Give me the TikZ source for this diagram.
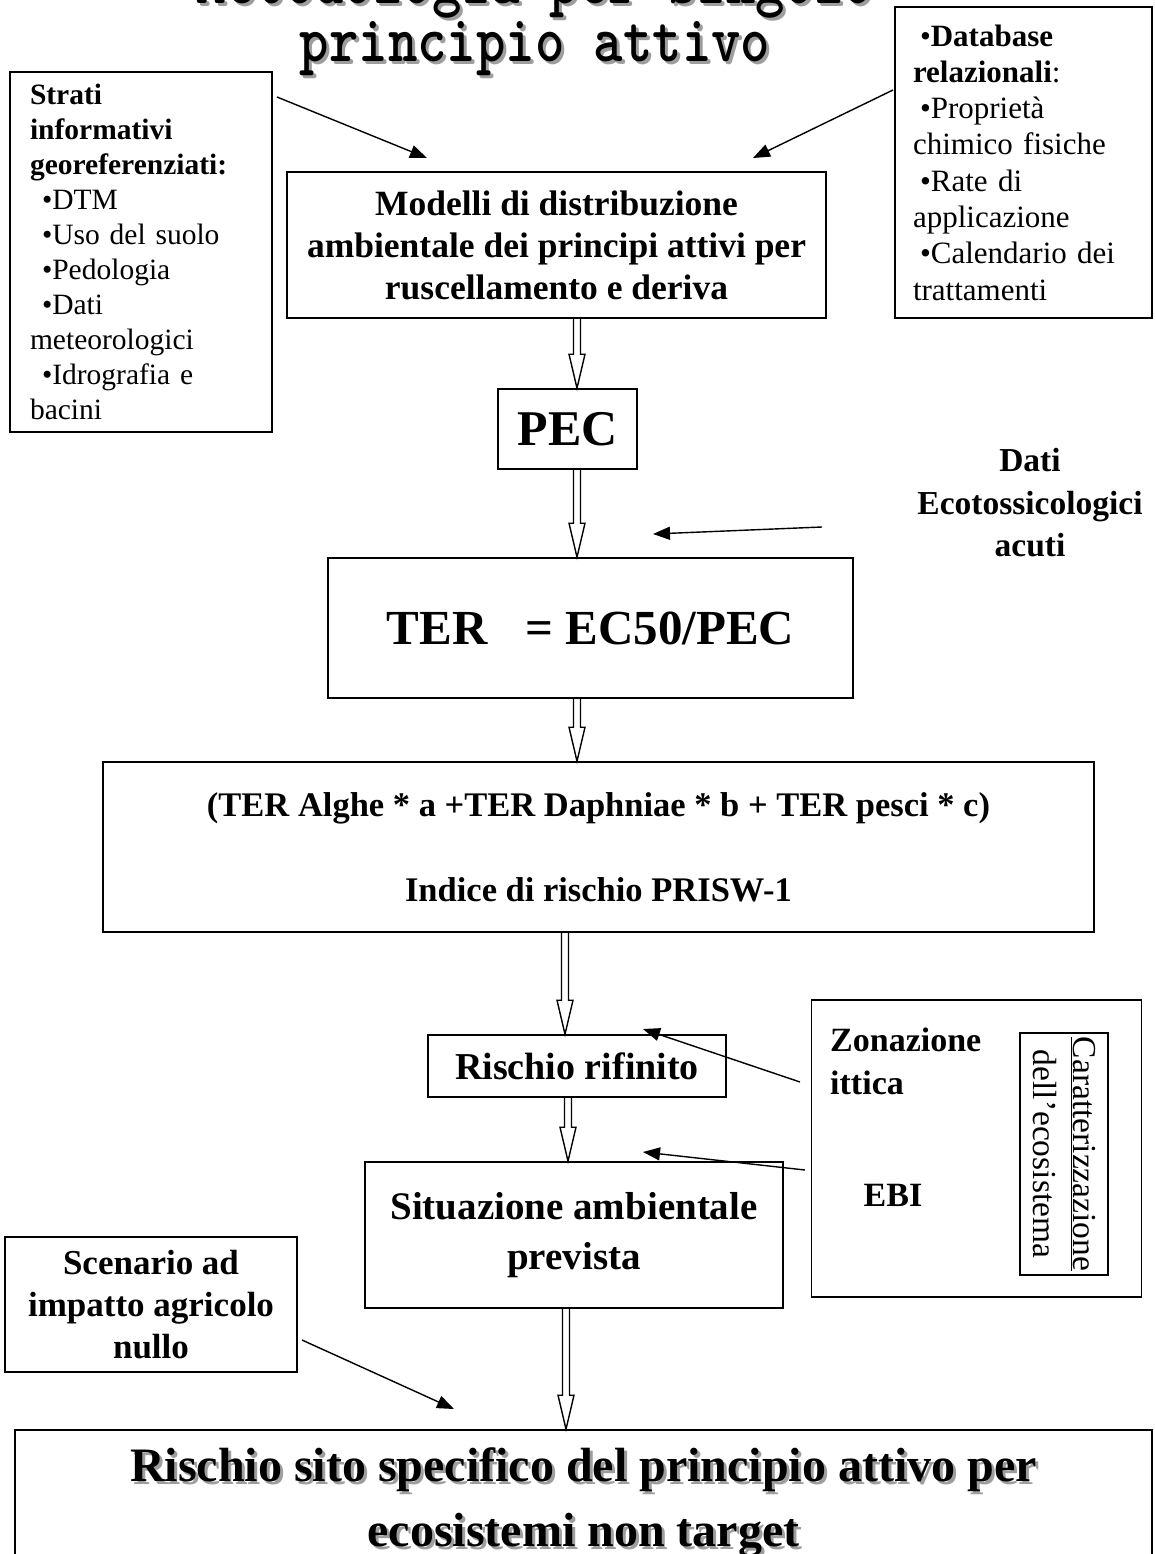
\documentclass[tikz,border=0pt]{standalone}
\usepackage{fontspec}
\setmainfont{Liberation Serif}
\usetikzlibrary{arrows.meta,calc}

\tikzset{
  box/.style={draw, line width=1.6pt, inner sep=0pt, align=center},
  thinarrow/.style={line width=1.4pt, -{Triangle[length=17pt,width=13pt]}},
  hollow/.style={draw, line width=1.4pt, line join=miter},
  shadowtext/.style={text=black!38},
}

% open double-line arrow from the bottom of one node to the top of another, at abscissa #3
\newcommand\hollowdown[3]{%
  \draw[hollow] let \p1=(#1.south), \p2=(#2.north) in
    ({#3pt-3.5pt},\y1) -- ({#3pt-3.5pt},\y2+34pt) -- ({#3pt-8pt},\y2+34pt) --
    (#3pt,\y2) -- ({#3pt+8pt},\y2+34pt) -- ({#3pt+3.5pt},\y2+34pt) -- ({#3pt+3.5pt},\y1);
}
\newcommand\fs[2]{\fontsize{#1pt}{#2pt}\selectfont}
\newcommand\titlefont{\ttfamily\bfseries\fs{56}{56}}
\newcommand\tall[1]{\scalebox{1}[1.18]{#1}}
\newcommand\finaltext{Rischio sito specifico del principio attivo per\\[17pt]ecosistemi non target}

\begin{document}
\begin{tikzpicture}[x=1pt,y=-1pt]
\useasboundingbox (0,0) rectangle (1154,1554);
\clip (0,0) rectangle (1154,1554);

% title with shadow
\node[shadowtext, anchor=base, font=\titlefont, inner sep=0] at (538,7) {\tall{Metodologia per singolo}};
\node[anchor=base, font=\titlefont, inner sep=0] (title1) at (535,4) {\tall{Metodologia per singolo}};
\node[shadowtext, anchor=base, font=\titlefont, inner sep=0] at (538,65) {\tall{principio attivo}};
\node[anchor=base, font=\titlefont, inner sep=0] (title2) at (535,62) {\tall{principio attivo}};

% input boxes
\node[box, minimum width=262, minimum height=360, text width=222, align=left,
      font=\fs{29.5}{35}] (strati) at (141,252)
  {\textbf{Strati}\\\textbf{informativi}\\\textbf{georeferenziati:}\\
   \hspace*{12pt}•DTM\\\hspace*{12pt}•Uso del suolo\\\hspace*{12pt}•Pedologia\\
   \hspace*{12pt}•Dati\\meteorologici\\\hspace*{12pt}•Idrografia e\\bacini};

\node[box, minimum width=257, minimum height=311, text width=221, align=left,
      font=\fs{31}{36.3}] (db) at (1023.5,162.5)
  {\hspace*{7pt}•\textbf{Database}\\\textbf{relazionali}:\\\hspace*{7pt}•Proprietà\\
   chimico fisiche\\\hspace*{7pt}•Rate di\\applicazione\\\hspace*{7pt}•Calendario dei\\trattamenti};

% main chain
\node[box, minimum width=539, minimum height=146, font=\bfseries\fs{35.5}{42}] (modelli) at (556.5,245)
  {Modelli di distribuzione\\ambientale dei principi attivi per\\ruscellamento e deriva};

\node[box, minimum width=139, minimum height=80, font=\bfseries\fs{50}{50}] (pec) at (567.5,429) {PEC};

\node[box, minimum width=525, minimum height=140, font=\bfseries\fs{49}{49}] (ter) at (590.5,628)
  {TER\hspace{38pt}= EC50/PEC};

\node[box, minimum width=991, minimum height=170, font=\bfseries\fs{34.5}{41}] (teralghe) at (598.5,847)
  {(TER Alghe * a +TER Daphniae * b + TER pesci * c)\\[44pt]Indice di rischio PRISW-1};

\node[box, minimum width=298, minimum height=62, font=\bfseries\fs{38}{38}] (rifinito) at (577,1066)
  {Rischio rifinito};

\node[box, minimum width=418, minimum height=146, font=\bfseries\fs{39}{50}] (situazione) at (574,1235)
  {Situazione ambientale\\prevista};

\node[box, minimum width=292, minimum height=135, font=\bfseries\fs{35}{42}] (scenario) at (151,1304.5)
  {Scenario ad\\impatto agricolo\\nullo};

% final box with shadowed text
\node[box, minimum width=1137, minimum height=150] (final) at (583.5,1505) {};
\node[shadowtext, align=center, font=\bfseries\fs{48}{48}] at (586.5,1505) {\finaltext};
\node[align=center, font=\bfseries\fs{48}{48}] (finaltxt) at (583.5,1502) {\finaltext};

% side inputs
\node[align=center, font=\bfseries\fs{33.5}{42.5}] (dati) at (1030,503)
  {Dati\\Ecotossicologici\\acuti};

\node[box, minimum width=330, minimum height=297] (eco) at (976.5,1148.5) {};
\node[anchor=north west, align=left, inner sep=0, font=\bfseries\fs{34}{43}] (zona) at (830,1028)
  {Zonazione\\ittica};
\node[font=\bfseries\fs{34}{34}] (ebi) at (893,1195) {EBI};
\node[box, line width=1.2pt, rotate=-90, minimum width=242, minimum height=88,
      font=\fs{33.5}{40}] (caratt) at (1064,1154)
  {\underline{Caratterizzazione}\\dell’ecosistema};

% hollow flow arrows
\hollowdown{modelli}{pec}{577}
\hollowdown{pec}{ter}{577}
\hollowdown{ter}{teralghe}{577}
\hollowdown{teralghe}{rifinito}{565}
\hollowdown{rifinito}{situazione}{568}
\hollowdown{situazione}{final}{566}

% thin input arrows
\coordinate (s1) at (277,97);   \coordinate (e1) at (427,158);
\coordinate (s2) at (893,90);   \coordinate (e2) at (753,158);
\coordinate (s3) at (822,527);  \coordinate (e3) at (653,534);
\coordinate (s4) at (800,1082); \coordinate (e4) at (643,1029);
\coordinate (s5) at (805,1170); \coordinate (e5) at (643,1152);
\coordinate (s6) at (302,1340); \coordinate (e6) at (454,1409);
\draw[thinarrow] (s1) -- (e1);
\draw[thinarrow] (s2) -- (e2);
\draw[thinarrow] (s3) -- (e3);
\draw[thinarrow] (s4) -- (e4);
\draw[thinarrow] (s5) -- (e5);
\draw[thinarrow] (s6) -- (e6);
\end{tikzpicture}
\end{document}
